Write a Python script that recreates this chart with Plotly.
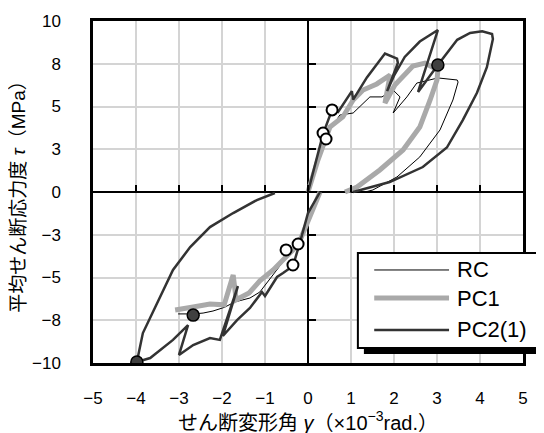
import plotly.graph_objects as go

# ---------------- data ----------------
rc_x = [0.0, 0.3, 0.74, 1.05, 1.44, 1.72, 1.98, 2.14, 1.98, 2.3, 2.53, 2.84, 3.02, 3.47, 3.49,
        3.37, 3.07, 2.6, 2.07, 1.51, 1.33, None,
        0.28, 0.05, -0.19, -0.51, -0.88, -1.12, -1.35, -1.7, -1.95, -2.21, -2.44, -2.67, -3.02]
rc_y = [0.0, 2.8, 4.5, 4.62, 5.56, 5.56, 5.96, 5.56, 4.62, 5.56, 6.37, 6.55, 6.67, 6.55, 6.43,
        5.38, 3.63, 2.05, 0.88, 0.12, 0.0, None,
        0.0, -1.3, -2.8, -3.86, -5.03, -5.85, -6.2, -6.43, -6.75, -6.96, -7.08, -7.13, -7.13]

pc1_x = [0.0, 0.23, 0.51, 0.81, 1.05, 1.28, 1.6, 1.91, 1.79, 2.02, 2.44, 2.72, 3.02, 3.0,
         2.84, 2.6, 2.21, 1.67, 1.14, 0.86, None,
         0.28, 0.05, -0.23, -0.49, -0.81, -1.12, -1.37, -1.67, -1.74, -1.95, -2.28, -2.67, -3.09]
pc1_y = [0.0, 1.87, 3.8, 4.39, 5.38, 5.96, 6.32, 6.84, 5.2, 6.26, 7.37, 7.54, 7.13, 6.55,
         5.38, 3.8, 2.46, 1.29, 0.29, 0.0, None,
         0.0, -1.35, -3.1, -3.74, -4.56, -5.2, -5.9, -6.3, -4.85, -6.6, -6.55, -6.73, -6.9]

pc2_x = [0.0, 0.35, 0.56, 0.7, 1.02, 1.05, 1.37, 1.79, 2.07, 2.09, 1.84, 2.0, 2.25, 2.6, 3.02,
         2.56, 3.02, 3.47, 3.77, 4.05, 4.28, 4.3, 4.16, 3.93, 3.6, 3.23, 2.67, 1.9, 1.05, None,
         0.28, 0.0, -0.19, -0.35, -0.58, -0.72, -1.0, -1.07, -1.35, -1.65, -1.98, -1.63, -2.05,
         -2.28, -2.67, -3.0, -2.79, -3.14, -3.67, -3.98, -3.84, -3.51, -3.14, -2.74, -2.28,
         -1.74, -1.19, -0.77]
pc2_y = [0.0, 3.4, 4.8, 4.68, 5.9, 5.4, 6.7, 8.1, 7.8, 7.55, 5.9, 6.8, 7.9, 8.8, 9.47,
         5.85, 7.43, 8.9, 9.3, 9.4, 9.24, 8.95, 7.3, 5.8, 4.2, 2.6, 1.46, 0.58, 0.0, None,
         0.0, -1.23, -2.98, -4.33, -4.74, -4.97, -6.08, -5.85, -6.78, -7.49, -8.42, -5.5, -8.65,
         -8.54, -8.95, -9.53, -7.78, -8.65, -9.71, -9.94, -8.25, -6.49, -4.56, -3.22, -2.05,
         -1.23, -0.47, -0.06]

open_x = [0.56, 0.35, 0.42, -0.23, -0.51, -0.35]
open_y = [4.8, 3.45, 3.1, -3.04, -3.39, -4.27]

filled_x = [3.02, -2.67, -3.98]
filled_y = [7.43, -7.2, -9.94]

x_ticks = [-5, -4, -3, -2, -1, 0, 1, 2, 3, 4, 5]
y_tickvals = [-10, -7.5, -5, -2.5, 0, 2.5, 5, 7.5, 10]
y_ticktext = ["−10", "−8", "−5", "−3", "0", "3", "5", "8", "10"]

series_names = ["RC", "PC1", "PC2(1)"]
series_colors = ["black", "#a9a9a9", "#333333"]
series_widths = [1, 5, 2.5]

FONT = "Liberation Sans, Arial, Noto Sans CJK JP, sans-serif"

fig = go.Figure()
for nm, xs, ys, c, w in zip(series_names, [rc_x, pc1_x, pc2_x], [rc_y, pc1_y, pc2_y],
                            series_colors, series_widths):
    fig.add_trace(go.Scatter(x=xs, y=ys, mode="lines", name=nm, showlegend=False,
                             line=dict(color=c, width=w)))
fig.add_trace(go.Scatter(x=open_x, y=open_y, mode="markers", showlegend=False,
                         marker=dict(size=11, color="white",
                                     line=dict(color="black", width=2))))
fig.add_trace(go.Scatter(x=filled_x, y=filled_y, mode="markers", showlegend=False,
                         marker=dict(size=12, color="#404040",
                                     line=dict(color="black", width=1.5))))
# trace for the inner tick axes (crossing at zero)
fig.add_trace(go.Scatter(x=[0], y=[0], xaxis="x2", yaxis="y2", mode="markers",
                         marker=dict(size=1, opacity=0),
                         showlegend=False, hoverinfo="skip"))

# ---- legend box (Excel style, with drop shadow) ----
shapes = [
    dict(type="rect", xref="paper", yref="paper", x0=0.63, x1=1.053, y0=0.026, y1=0.304,
         fillcolor="black", line=dict(width=0), layer="above"),
    dict(type="rect", xref="paper", yref="paper", x0=0.616, x1=1.0395, y0=0.044, y1=0.3216,
         fillcolor="white", line=dict(color="black", width=2), layer="above"),
]
annotations = []
row_y = [0.272, 0.190, 0.0965]
for nm, c, w, yy in zip(series_names, series_colors, series_widths, row_y):
    shapes.append(dict(type="line", xref="paper", yref="paper", x0=0.654, x1=0.828,
                       y0=yy, y1=yy, line=dict(color=c, width=w), layer="above"))
    annotations.append(dict(text=nm, xref="paper", yref="paper", x=0.842, y=yy,
                            xanchor="left", yanchor="middle", showarrow=False,
                            font=dict(size=22)))

fig.update_layout(
    width=544, height=433,
    margin=dict(l=85, r=29, t=13, b=78),
    paper_bgcolor="white", plot_bgcolor="white",
    font=dict(family=FONT, size=16, color="black"),
    showlegend=False,
    xaxis=dict(range=[-5, 5], tickvals=x_ticks, ticks="", showgrid=True,
               gridcolor="#d4d4d4", gridwidth=1.5, automargin=False,
               zeroline=True, zerolinecolor="black", zerolinewidth=1.5,
               showline=True, linecolor="black", linewidth=2.5, mirror=True,
               tickfont=dict(size=17), ticklabelstandoff=18,
               title=dict(text="せん断変形角 <i>γ</i>（×10<sup>−3</sup>rad.）",
                          font=dict(size=20), standoff=0)),
    yaxis=dict(range=[-10, 10], tickvals=y_tickvals, ticktext=y_ticktext, ticks="",
               showgrid=True, gridcolor="#d4d4d4", gridwidth=1.5, automargin=False,
               zeroline=True, zerolinecolor="black", zerolinewidth=1.5,
               showline=True, linecolor="black", linewidth=2.5, mirror=True,
               tickfont=dict(size=17), ticklabelstandoff=26,
               title=dict(text="平均せん断応力度 <i>τ</i>（MPa）",
                          font=dict(size=19), standoff=2)),
    xaxis2=dict(range=[-5, 5], overlaying="x", anchor="free", position=0.5,
                side="bottom", tickvals=x_ticks, ticks="inside", ticklen=7,
                tickwidth=1.5, tickcolor="black", showticklabels=False,
                showgrid=False, zeroline=False, showline=False, automargin=False),
    yaxis2=dict(range=[-10, 10], overlaying="y", anchor="free", position=0.5,
                side="left", tickvals=y_tickvals, ticks="inside", ticklen=7,
                tickwidth=1.5, tickcolor="black", showticklabels=False,
                showgrid=False, zeroline=False, showline=False, automargin=False),
    shapes=shapes,
    annotations=annotations,
)

fig.write_html("out.html")
